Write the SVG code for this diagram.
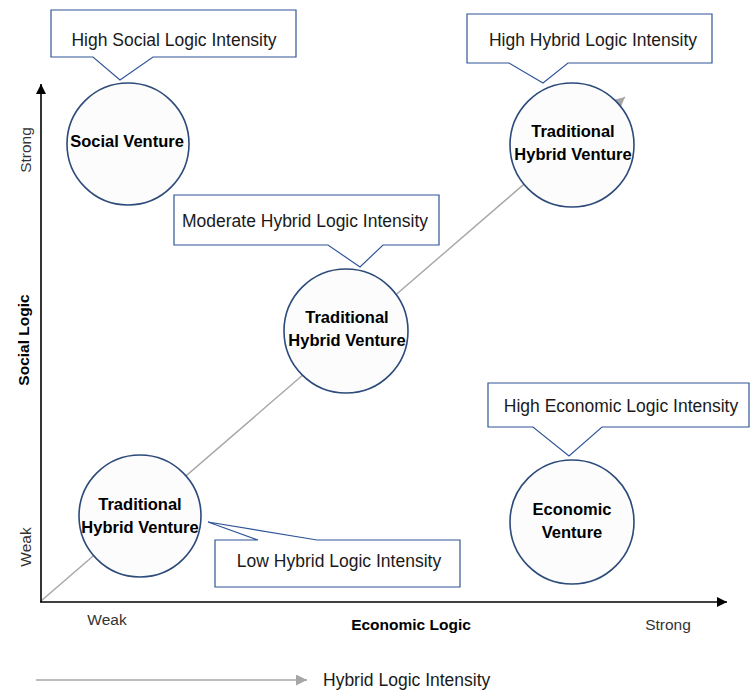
<svg xmlns="http://www.w3.org/2000/svg" width="750" height="695" viewBox="0 0 750 695">
  <style>
    .axis { stroke: #000; stroke-width: 1.6; fill: none; }
    .trend { stroke: #a6a6a6; stroke-width: 1.4; fill: none; }
    .venture { fill: #fcfcfc; stroke: #2c4a7a; stroke-width: 1.6; }
    .callout { fill: #fff; stroke: #2f5597; stroke-width: 1.2; stroke-linejoin: miter; }
    .lbl { font-family: "Liberation Sans", Arial, sans-serif; font-size: 17.5px; fill: #1a1a1a; }
    .name { font-family: "Liberation Sans", Arial, sans-serif; font-size: 16.5px; font-weight: 600; fill: #000; text-anchor: middle; }
    .axtitle { font-family: "Liberation Sans", Arial, sans-serif; font-size: 15.5px; font-weight: 600; fill: #000; }
    .tick { font-family: "Liberation Sans", Arial, sans-serif; font-size: 15.5px; fill: #333; }
    .mid { text-anchor: middle; }
  </style>
  <defs>
    <marker id="blackHead" viewBox="0 0 10 10" refX="10" refY="5" markerWidth="10" markerHeight="10" markerUnits="userSpaceOnUse" orient="auto">
      <path d="M0,0 L10,5 L0,10 z" fill="#000"/>
    </marker>
    <marker id="greyHead" viewBox="0 0 10 10" refX="10" refY="5" markerWidth="11" markerHeight="11" markerUnits="userSpaceOnUse" orient="auto">
      <path d="M0,0 L10,5 L0,10 z" fill="#a6a6a6"/>
    </marker>
  </defs>

  <!-- axes and intensity trend line -->
  <g id="connectors">
    <line class="trend" x1="41" y1="601" x2="625" y2="97" marker-end="url(#greyHead)"/>
    <line class="axis" x1="41" y1="602" x2="41" y2="84" marker-end="url(#blackHead)"/>
    <line class="axis" x1="40" y1="602" x2="727" y2="602" marker-end="url(#blackHead)"/>
    <line class="trend" x1="36" y1="680" x2="307" y2="680" marker-end="url(#greyHead)"/>
  </g>

  <!-- axis labels -->
  <g id="axis-labels">
    <text class="tick mid" transform="translate(31,150) rotate(-90)">Strong</text>
    <text class="axtitle mid" transform="translate(29,340) rotate(-90)">Social Logic</text>
    <text class="tick mid" transform="translate(31,547) rotate(-90)">Weak</text>
    <text class="tick mid" x="107" y="625">Weak</text>
    <text class="axtitle mid" x="411" y="630">Economic Logic</text>
    <text class="tick mid" x="668" y="630">Strong</text>
    <text class="lbl" x="323" y="686">Hybrid Logic Intensity</text>
  </g>

  <!-- ventures -->
  <g id="social-venture">
    <circle class="venture" cx="128" cy="144" r="61"/>
    <text class="name" x="127" y="147">Social Venture</text>
  </g>
  <g id="hybrid-high">
    <circle class="venture" cx="572" cy="145" r="62"/>
    <text class="name" x="573" y="137">Traditional</text>
    <text class="name" x="573" y="160">Hybrid Venture</text>
  </g>
  <g id="hybrid-moderate">
    <circle class="venture" cx="346" cy="331" r="62"/>
    <text class="name" x="347" y="323">Traditional</text>
    <text class="name" x="347" y="346">Hybrid Venture</text>
  </g>
  <g id="hybrid-low">
    <circle class="venture" cx="140" cy="516" r="61"/>
    <text class="name" x="140" y="510">Traditional</text>
    <text class="name" x="140" y="533">Hybrid Venture</text>
  </g>
  <g id="economic-venture">
    <circle class="venture" cx="572" cy="522" r="62"/>
    <text class="name" x="572" y="515">Economic</text>
    <text class="name" x="572" y="538">Venture</text>
  </g>

  <!-- intensity callouts -->
  <g id="callout-social">
    <path class="callout" d="M51,10 H296 V57 H153 L120,80 L93,57 H51 Z"/>
    <text class="lbl mid" x="174" y="46">High Social Logic Intensity</text>
  </g>
  <g id="callout-hybrid-high">
    <path class="callout" d="M467,14 H712 V63 H568 L543,83 L509,63 H467 Z"/>
    <text class="lbl mid" x="593" y="46">High Hybrid Logic Intensity</text>
  </g>
  <g id="callout-hybrid-moderate">
    <path class="callout" d="M174,195 H439 V245 H383 L360,267 L328,245 H174 Z"/>
    <text class="lbl mid" x="305" y="227">Moderate Hybrid Logic Intensity</text>
  </g>
  <g id="callout-economic">
    <path class="callout" d="M488,383 H749 V427 H602 L569,456 L533,427 H488 Z"/>
    <text class="lbl mid" x="621" y="412">High Economic Logic Intensity</text>
  </g>
  <g id="callout-hybrid-low">
    <path class="callout" d="M215,540 H258 L208,522 L317,540 H460 V587 H215 Z"/>
    <text class="lbl mid" x="339" y="567">Low Hybrid Logic Intensity</text>
  </g>
</svg>
